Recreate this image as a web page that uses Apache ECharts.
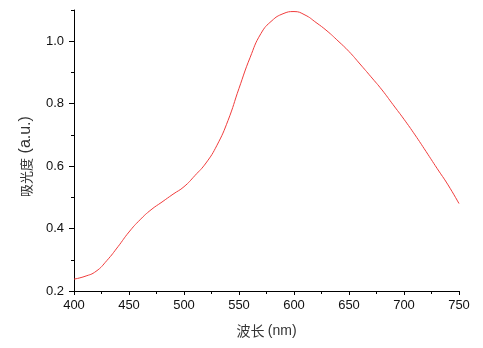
<!DOCTYPE html>
<html><head><meta charset="utf-8">
<script src="https://cdn.jsdelivr.net/npm/echarts@6/dist/echarts.min.js"></script>
<style>html,body{margin:0;padding:0;background:#fff}#c{width:483px;height:348px}</style>
</head><body><div id="c"></div>
<script>
const wavelengths = [400,410,420,430,440,450,460,470,480,490,500,510,520,530,540,550,560,570,580,590,600,610,620,630,640,650,660,670,680,690,700,710,720,730,740,750];
const absorbance = [0.238,0.247,0.263,0.298,0.342,0.389,0.428,0.460,0.485,0.510,0.534,0.570,0.610,0.667,0.746,0.849,0.947,1.025,1.066,1.088,1.095,1.084,1.060,1.033,1.001,0.967,0.927,0.886,0.844,0.797,0.750,0.700,0.647,0.593,0.540,0.480];
const xTicks = [400,450,500,550,600,650,700,750];
const yMajor = [0.2,0.4,0.6,0.8,1.0];
const yMinor = [0.3,0.5,0.7,0.9,1.1];

const chart = echarts.init(document.getElementById('c'), null, {renderer:'canvas'});
const font = 'Liberation Sans, Arial, sans-serif';
chart.setOption({
  animation:false,
  grid:{left:74,right:24,top:10,bottom:57},
  xAxis:{
    type:'value',min:400,max:750,interval:50,
    name:'{c|波长} {l|(nm)}',nameLocation:'middle',nameGap:33,
    nameTextStyle:{color:'#333',rich:{
      c:{fontFamily:'Noto Sans CJK SC',fontSize:14,color:'#333'},
      l:{fontFamily:font,fontSize:14,color:'#333'}}},
    axisLine:{show:true,lineStyle:{color:'#000',width:1}},
    axisTick:{show:true,inside:false,length:4,lineStyle:{color:'#000'}},
    minorTick:{show:true,splitNumber:2,length:3,lineStyle:{color:'#000'}},
    axisLabel:{fontFamily:font,fontSize:13,color:'#111',margin:8,customValues:xTicks},
    splitLine:{show:false}
  },
  yAxis:[{
    type:'value',min:0.2,max:1.1,
    name:'{c|吸光度}{l| (a.u.)}',nameLocation:'middle',nameGap:40,nameRotate:90,
    nameTextStyle:{color:'#333',padding:[0,12,0,0],rich:{
      c:{fontFamily:'Noto Sans CJK SC',fontSize:13,color:'#333'},
      l:{fontFamily:font,fontSize:16,color:'#333'}}},
    axisLine:{show:true,lineStyle:{color:'#000',width:1}},
    axisTick:{show:true,length:5,customValues:yMajor,lineStyle:{color:'#000'}},
    axisLabel:{fontFamily:font,fontSize:13,color:'#111',margin:10,customValues:yMajor,formatter:v=>v.toFixed(1)},
    splitLine:{show:false}
  },{
    type:'value',min:0.2,max:1.1,position:'left',
    axisLine:{show:false},
    axisTick:{show:true,length:3,customValues:yMinor,lineStyle:{color:'#000'}},
    axisLabel:{show:false},
    splitLine:{show:false}
  }],
  series:[{
    type:'line',
    data:wavelengths.map((w,i)=>[w,absorbance[i]]),
    smooth:0.5,showSymbol:false,
    lineStyle:{color:'#f03c3c',width:1}
  }]
});
</script></body></html>
